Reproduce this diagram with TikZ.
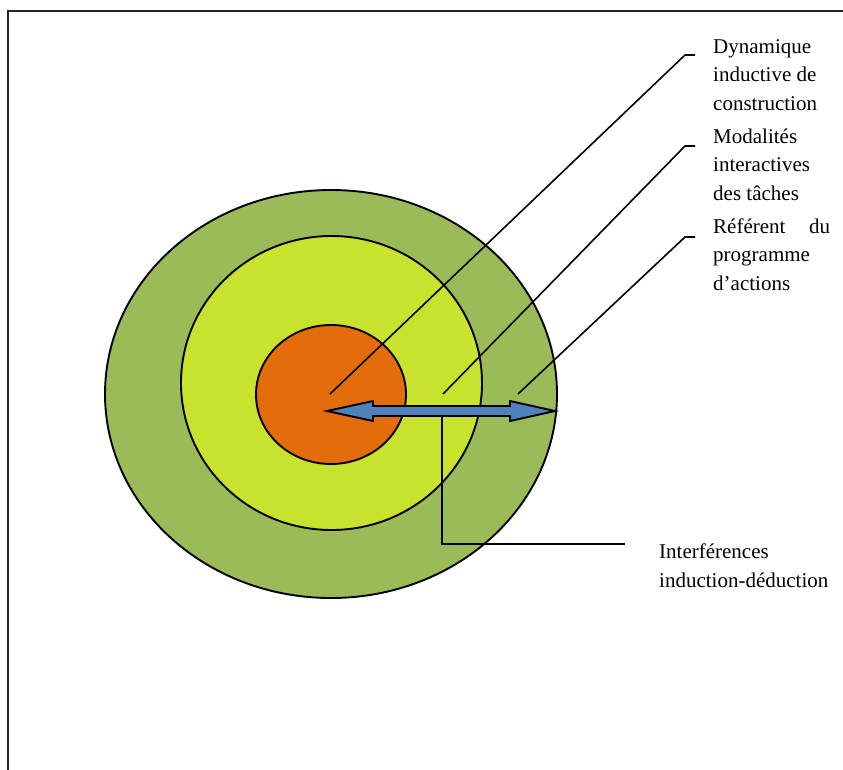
\documentclass[tikz,border=0pt]{standalone}
\usepackage{fontspec}
\setmainfont{Liberation Serif}
\usetikzlibrary{shapes.geometric}
\definecolor{outergreen}{HTML}{9BBB59}
\definecolor{midyellow}{HTML}{C8E22E}
\definecolor{coreorange}{HTML}{E46C0A}
\definecolor{arrowblue}{HTML}{4F81BD}
\tikzset{
  ring/.style={ellipse, draw=black, line width=1.9pt, inner sep=0pt},
  leader/.style={draw=black, line width=1.6pt},
  label/.style={font=\fontsize{21}{28.5}\selectfont, align=left, inner sep=0pt, anchor=base west},
  frameline/.style={draw=black!85, line width=2.5pt}
}
\begin{document}
\begin{tikzpicture}[x=1pt,y=-1pt]
\useasboundingbox (0,0) rectangle (843,769);
\fill[white] (0,0) rectangle (843,769);
% frame
\draw[frameline] (8,780) -- (8,11) -- (850,11);
% rings
\node[ring, fill=outergreen, minimum width=452pt, minimum height=408pt] (outer) at (331,394) {};
\node[ring, fill=midyellow, minimum width=301pt, minimum height=294pt] (middle) at (331.5,383) {};
\node[ring, fill=coreorange, minimum width=150pt, minimum height=139pt] (core) at (331,394.5) {};
% labels (anchor = baseline of last line)
\node[label] (t1) at (713,110) {Dynamique\\inductive de\\construction};
\node[label] (t2) at (713,200) {Modalités\\interactives\\des tâches};
\node[label] (t3) at (713,290) {\makebox[117pt][s]{Référent du}\\programme\\d’actions};
\node[label] (t4) at (659,587) {Interférences\\induction-déduction};
% leader coordinates
\coordinate (a1) at (330,394);
\coordinate (k1) at (685,55);
\coordinate (e1) at (695,55);
\coordinate (a2) at (443,394);
\coordinate (k2) at (685,146);
\coordinate (e2) at (695,146);
\coordinate (a3) at (518,394);
\coordinate (k3) at (685,237);
\coordinate (e3) at (695,237);
\draw[leader] (a1) -- (k1) -- (e1);
\draw[leader] (a2) -- (k2) -- (e2);
\draw[leader] (a3) -- (k3) -- (e3);
% interference connector
\coordinate (v0) at (442,416);
\coordinate (v1) at (442,544);
\coordinate (v2) at (625,544);
\draw[leader] (v0) -- (v1) -- (v2);
% double arrow
\coordinate (lt) at (327,411);
\coordinate (rt) at (555,411);
\draw[fill=arrowblue, draw=black, line width=1.9pt, line join=miter]
  (lt) -- (373,401) -- (373,406) -- (510,406) -- (510,401) -- (rt)
  -- (510,421) -- (510,416) -- (373,416) -- (373,421) -- cycle;
\end{tikzpicture}
\end{document}
